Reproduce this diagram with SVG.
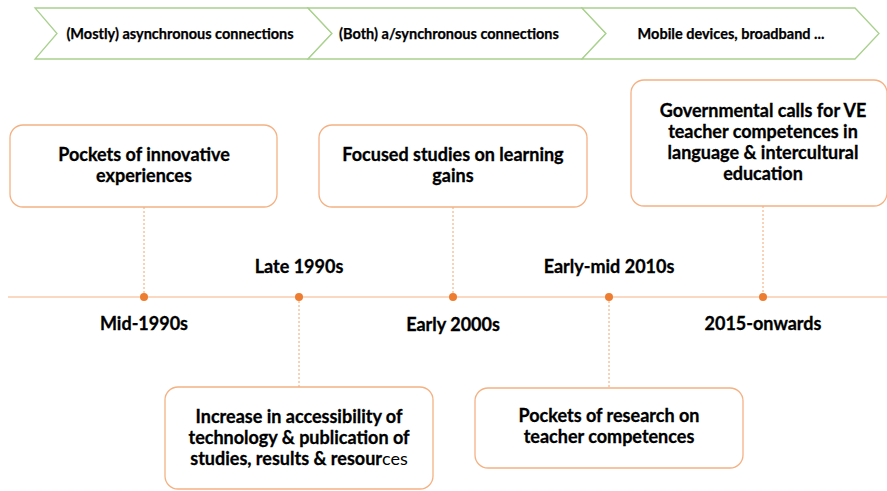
<svg xmlns="http://www.w3.org/2000/svg" width="887" height="491" viewBox="0 0 887 491">
<style>
.chev{fill:#fff;stroke:#A9D18E;stroke-width:1.3}
.box{fill:#fff;stroke:#F4B183;stroke-width:1.3}
.tl{stroke:#F8CBAD;stroke-width:1.5}
.dot{fill:#ED7D31}
.dash{stroke:#F4A470;stroke-width:1;stroke-dasharray:2,2;fill:none}
.ct{font-family:Lato,"Open Sans",sans-serif;font-weight:bold;font-size:14.5px;fill:#000;stroke:#000;stroke-width:0.25;text-anchor:middle}
.bt{font-family:Lato,"Open Sans",sans-serif;font-weight:bold;font-size:18px;fill:#000;stroke:#000;stroke-width:0.3;text-anchor:middle}
.n{font-weight:normal;stroke:none}
</style>
<rect width="887" height="491" fill="#fff"/>
<g id="chevrons">
<g id="chev1"><polygon class="chev" points="35,8 308,8 332,33.5 308,59 35,59 57,33.5"/><text class="ct" x="180" y="38.5">(Mostly) asynchronous connections</text></g>
<g id="chev2"><polygon class="chev" points="308,8 582,8 606,33.5 582,59 308,59 332,33.5"/><text class="ct" x="449" y="38.5">(Both) a/synchronous connections</text></g>
<g id="chev3"><polygon class="chev" points="582,8 855,8 879,33.5 855,59 582,59 606,33.5"/><text class="ct" x="731" y="38.5">Mobile devices, broadband ...</text></g>
</g>
<g id="connectors">
<line class="tl" x1="8" y1="297" x2="887" y2="297"/>
<line class="dash" x1="144" y1="207" x2="144" y2="297"/>
<line class="dash" x1="299" y1="297" x2="299" y2="387"/>
<line class="dash" x1="453" y1="207" x2="453" y2="297"/>
<line class="dash" x1="609" y1="297" x2="609" y2="388"/>
<line class="dash" x1="763" y1="206" x2="763" y2="297"/>
</g>
<g id="dots">
<circle class="dot" cx="144" cy="297" r="4"/>
<circle class="dot" cx="299" cy="297" r="4"/>
<circle class="dot" cx="453" cy="297" r="4"/>
<circle class="dot" cx="609" cy="297" r="4"/>
<circle class="dot" cx="763" cy="297" r="4"/>
</g>
<g id="labels">
<text class="bt" x="144" y="330">Mid-1990s</text>
<text class="bt" x="299" y="273">Late 1990s</text>
<text class="bt" x="453" y="331">Early 2000s</text>
<text class="bt" x="609" y="273">Early-mid 2010s</text>
<text class="bt" x="763" y="330">2015-onwards</text>
</g>
<g id="box1"><rect class="box" x="10" y="125" width="267" height="82" rx="13"/><text class="bt" x="144" y="161">Pockets of innovative</text><text class="bt" x="144" y="182">experiences</text></g>
<g id="box2"><rect class="box" x="165" y="387" width="268" height="102" rx="13"/><text class="bt" x="299" y="423">Increase in accessibility of</text><text class="bt" x="299" y="444">technology &amp; publication of</text><text class="bt" x="299" y="465">studies, results &amp; resour<tspan class="n">ces</tspan></text></g>
<g id="box3"><rect class="box" x="319" y="125" width="268" height="82" rx="13"/><text class="bt" x="453" y="161">Focused studies on learning</text><text class="bt" x="453" y="182">gains</text></g>
<g id="box4"><rect class="box" x="475" y="388" width="268" height="80" rx="13"/><text class="bt" x="609" y="422">Pockets of research on</text><text class="bt" x="609" y="443">teacher competences</text></g>
<g id="box5"><rect class="box" x="631" y="80" width="256" height="126" rx="13"/><text class="bt" x="763" y="117">Governmental calls for VE</text><text class="bt" x="763" y="138">teacher competences in</text><text class="bt" x="763" y="159">language &amp; intercultural</text><text class="bt" x="763" y="180">education</text></g>
</svg>
